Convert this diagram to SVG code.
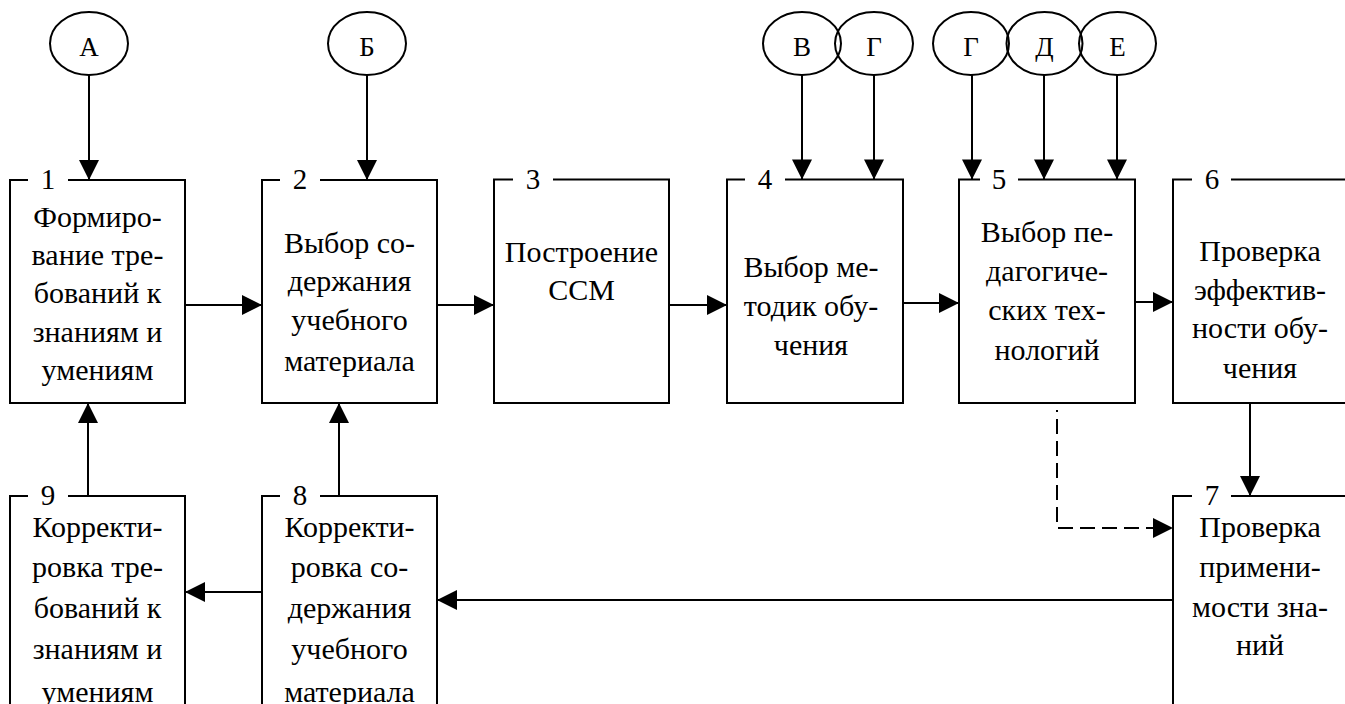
<svg xmlns="http://www.w3.org/2000/svg" width="1345" height="704" viewBox="0 0 1345 704" font-family="'Liberation Serif', 'DejaVu Serif', serif">
  <defs>
    <marker id="arrow" markerUnits="userSpaceOnUse" markerWidth="20" markerHeight="20" refX="20" refY="10" orient="auto" overflow="visible">
      <path d="M0,0 L20,10 L0,20 Z" fill="#000"/>
    </marker>
    <style>
      .frame { fill: none; stroke: #000; stroke-width: 2; }
      .oval { fill: none; stroke: #000; stroke-width: 2; }
      text { font-family: 'Liberation Serif', 'DejaVu Serif', serif; fill: #000; text-anchor: middle; }
      .lbl { font-size: 30px; }
      .num { font-size: 29px; }
      .ltr { font-size: 27px; }
      .link { fill: none; stroke: #000; stroke-width: 2; marker-end: url(#arrow); }
      .dash { fill: none; stroke: #000; stroke-width: 2; stroke-dasharray: 15 7; }
    </style>
  </defs>
  <rect width="1345" height="704" fill="#fff"/>

  <!-- input factors -->
  <g id="factor-a"><ellipse class="oval" cx="89" cy="43.5" rx="39" ry="31.5"/><text class="ltr" x="89" y="56">А</text></g>
  <g id="factor-b"><ellipse class="oval" cx="367" cy="43.5" rx="39" ry="31.5"/><text class="ltr" x="367" y="56">Б</text></g>
  <g id="factor-v"><ellipse class="oval" cx="802" cy="43.5" rx="39" ry="31.5"/><text class="ltr" x="802" y="56">В</text></g>
  <g id="factor-g1"><ellipse class="oval" cx="874" cy="43.5" rx="39" ry="31.5"/><text class="ltr" x="874" y="56">Г</text></g>
  <g id="factor-g2"><ellipse class="oval" cx="971" cy="43.5" rx="38" ry="31.5"/><text class="ltr" x="971" y="56">Г</text></g>
  <g id="factor-d"><ellipse class="oval" cx="1044.5" cy="43.5" rx="38" ry="31.5"/><text class="ltr" x="1044.5" y="56">Д</text></g>
  <g id="factor-e"><ellipse class="oval" cx="1117.5" cy="43.5" rx="38.5" ry="31.5"/><text class="ltr" x="1117.5" y="56">Е</text></g>

  <!-- step 1 -->
  <g id="step-1">
    <path class="frame" d="M28,180 H10 V403 H185 V180 H68"/>
    <text class="num" x="48" y="189">1</text>
    <text class="lbl" x="97.5" y="227">Формиро-</text>
    <text class="lbl" x="97.5" y="265">вание тре-</text>
    <text class="lbl" x="97.5" y="303">бований к</text>
    <text class="lbl" x="97.5" y="342">знаниям и</text>
    <text class="lbl" x="97.5" y="380">умениям</text>
  </g>
  <!-- step 2 -->
  <g id="step-2">
    <path class="frame" d="M280,180 H262 V403 H437 V180 H320"/>
    <text class="num" x="300" y="189">2</text>
    <text class="lbl" x="349.5" y="253">Выбор со-</text>
    <text class="lbl" x="349.5" y="291">держания</text>
    <text class="lbl" x="349.5" y="330">учебного</text>
    <text class="lbl" x="349.5" y="371">материала</text>
  </g>
  <!-- step 3 -->
  <g id="step-3">
    <path class="frame" d="M513,179.5 H494 V403 H669 V179.5 H553"/>
    <text class="num" x="533" y="189">3</text>
    <text class="lbl" x="581.5" y="262">Построение</text>
    <text class="lbl" x="581.5" y="300">ССМ</text>
  </g>
  <!-- step 4 -->
  <g id="step-4">
    <path class="frame" d="M745,179.5 H727 V403 H903 V179.5 H785"/>
    <text class="num" x="765" y="189">4</text>
    <text class="lbl" x="811" y="277">Выбор ме-</text>
    <text class="lbl" x="811" y="316">тодик обу-</text>
    <text class="lbl" x="811" y="355">чения</text>
  </g>
  <!-- step 5 -->
  <g id="step-5">
    <path class="frame" d="M980,179.5 H959 V403 H1135 V179.5 H1018"/>
    <text class="num" x="999" y="189">5</text>
    <text class="lbl" x="1047" y="242">Выбор пе-</text>
    <text class="lbl" x="1047" y="281">дагогиче-</text>
    <text class="lbl" x="1047" y="320">ских тех-</text>
    <text class="lbl" x="1047" y="360">нологий</text>
  </g>
  <!-- step 6 -->
  <g id="step-6">
    <path class="frame" d="M1192,179.5 H1173 V403 H1348 V179.5 H1231"/>
    <text class="num" x="1212" y="189">6</text>
    <text class="lbl" x="1260" y="261">Проверка</text>
    <text class="lbl" x="1260" y="300">эффектив-</text>
    <text class="lbl" x="1260" y="338">ности обу-</text>
    <text class="lbl" x="1260" y="378">чения</text>
  </g>
  <!-- step 7 -->
  <g id="step-7">
    <path class="frame" d="M1192,496 H1173 V720 M1231,496 H1350"/>
    <text class="num" x="1212" y="505">7</text>
    <text class="lbl" x="1260" y="537">Проверка</text>
    <text class="lbl" x="1260" y="577">примени-</text>
    <text class="lbl" x="1260" y="617">мости зна-</text>
    <text class="lbl" x="1260" y="655">ний</text>
  </g>
  <!-- step 8 -->
  <g id="step-8">
    <path class="frame" d="M280,496 H262 V720 M437,720 V496 H320"/>
    <text class="num" x="300" y="505">8</text>
    <text class="lbl" x="349.5" y="537">Корректи-</text>
    <text class="lbl" x="349.5" y="577">ровка со-</text>
    <text class="lbl" x="349.5" y="618">держания</text>
    <text class="lbl" x="349.5" y="659">учебного</text>
    <text class="lbl" x="349.5" y="702">материала</text>
  </g>
  <!-- step 9 -->
  <g id="step-9">
    <path class="frame" d="M28,496 H10 V720 M185,720 V496 H68"/>
    <text class="num" x="48" y="505">9</text>
    <text class="lbl" x="97.5" y="537">Корректи-</text>
    <text class="lbl" x="97.5" y="577">ровка тре-</text>
    <text class="lbl" x="97.5" y="618">бований к</text>
    <text class="lbl" x="97.5" y="659">знаниям и</text>
    <text class="lbl" x="97.5" y="702">умениям</text>
  </g>

  <!-- connectors -->
  <g id="connectors">
    <path class="link" d="M89,75 V180"/>
    <path class="link" d="M367,75 V180"/>
    <path class="link" d="M802,75 V179.5"/>
    <path class="link" d="M874,75 V179.5"/>
    <path class="link" d="M972,75 V179.5"/>
    <path class="link" d="M1044,75 V179.5"/>
    <path class="link" d="M1117,75 V179.5"/>

    <path class="link" d="M185,305 H262"/>
    <path class="link" d="M437,305 H494"/>
    <path class="link" d="M669,305 H727"/>
    <path class="link" d="M903,303 H959"/>
    <path class="link" d="M1135,302 H1173"/>

    <path class="link" d="M1250,403 V496"/>
    <path class="dash" d="M1057,410 V528 H1155" stroke-dashoffset="13"/>
    <path d="M1153,518 L1173,528 L1153,538 Z" fill="#000"/>

    <path class="link" d="M1173,600 H437"/>
    <path class="link" d="M262,592 H185"/>
    <path class="link" d="M339,496 V403"/>
    <path class="link" d="M88,496 V403"/>
  </g>
</svg>
